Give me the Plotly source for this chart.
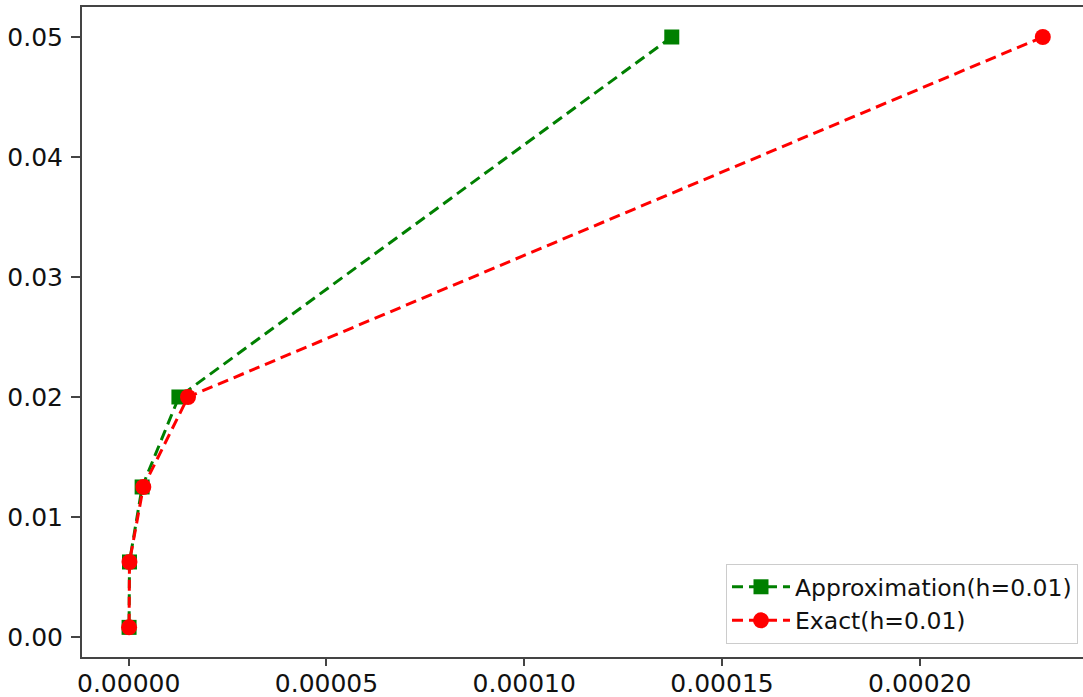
import plotly.graph_objects as go

# Data
y_vals = [0.05, 0.02, 0.0125, 0.00625, 0.0008]
approx_x = [0.0001373, 0.0000127, 0.0000034, 0.0000002, 0.0000001]
exact_x = [0.0002311, 0.0000150, 0.0000037, 0.0000002, 0.0000001]

x_ticks = [0.0, 0.00005, 0.00010, 0.00015, 0.00020]
x_tick_text = ["0.00000", "0.00005", "0.00010", "0.00015", "0.00020"]
y_ticks = [0.0, 0.01, 0.02, 0.03, 0.04, 0.05]
y_tick_text = ["0.00", "0.01", "0.02", "0.03", "0.04", "0.05"]

fig = go.Figure()
fig.add_trace(go.Scatter(
    x=approx_x, y=y_vals, mode="lines+markers", name="Approximation(h=0.01)",
    line=dict(color="#008000", width=3, dash="11px,6px"),
    marker=dict(symbol="square", size=15, color="#008000"),
))
fig.add_trace(go.Scatter(
    x=exact_x, y=y_vals, mode="lines+markers", name="Exact(h=0.01)",
    line=dict(color="#ff0000", width=3, dash="11px,6px"),
    marker=dict(symbol="circle", size=16, color="#ff0000"),
))

axis_font = dict(family="DejaVu Sans", size=25, color="#111111")
fig.update_layout(
    width=1083, height=697,
    margin=dict(l=82, r=0, t=7, b=40, autoexpand=False),
    paper_bgcolor="white", plot_bgcolor="white",
    showlegend=True,
    legend=dict(
        x=0.995, y=0.02, xanchor="right", yanchor="bottom",
        bgcolor="white", bordercolor="#cccccc", borderwidth=1,
        font=dict(family="DejaVu Sans", size=23.5, color="#111111"),
        itemwidth=58,
    ),
    xaxis=dict(
        range=[-0.0000118, 0.00024126],
        tickvals=x_ticks, ticktext=x_tick_text,
        showgrid=False, zeroline=False, automargin=False,
        showline=True, linecolor="#444444", linewidth=2, mirror=True,
        ticks="outside", ticklen=7, tickwidth=1.5, tickcolor="#444444",
        ticklabelstandoff=-4,
        tickfont=axis_font,
    ),
    yaxis=dict(
        range=[-0.00167, 0.0525],
        tickvals=y_ticks, ticktext=y_tick_text,
        showgrid=False, zeroline=False, automargin=False,
        showline=True, linecolor="#444444", linewidth=2,
        ticks="outside", ticklen=9, tickwidth=1.5, tickcolor="#444444",
        ticklabelstandoff=3,
        tickfont=axis_font,
    ),
)

fig.write_html(
    "out.html",
    config={"displayModeBar": False},
    post_script="document.body.style.margin='0';document.body.style.overflow='hidden';",
)
